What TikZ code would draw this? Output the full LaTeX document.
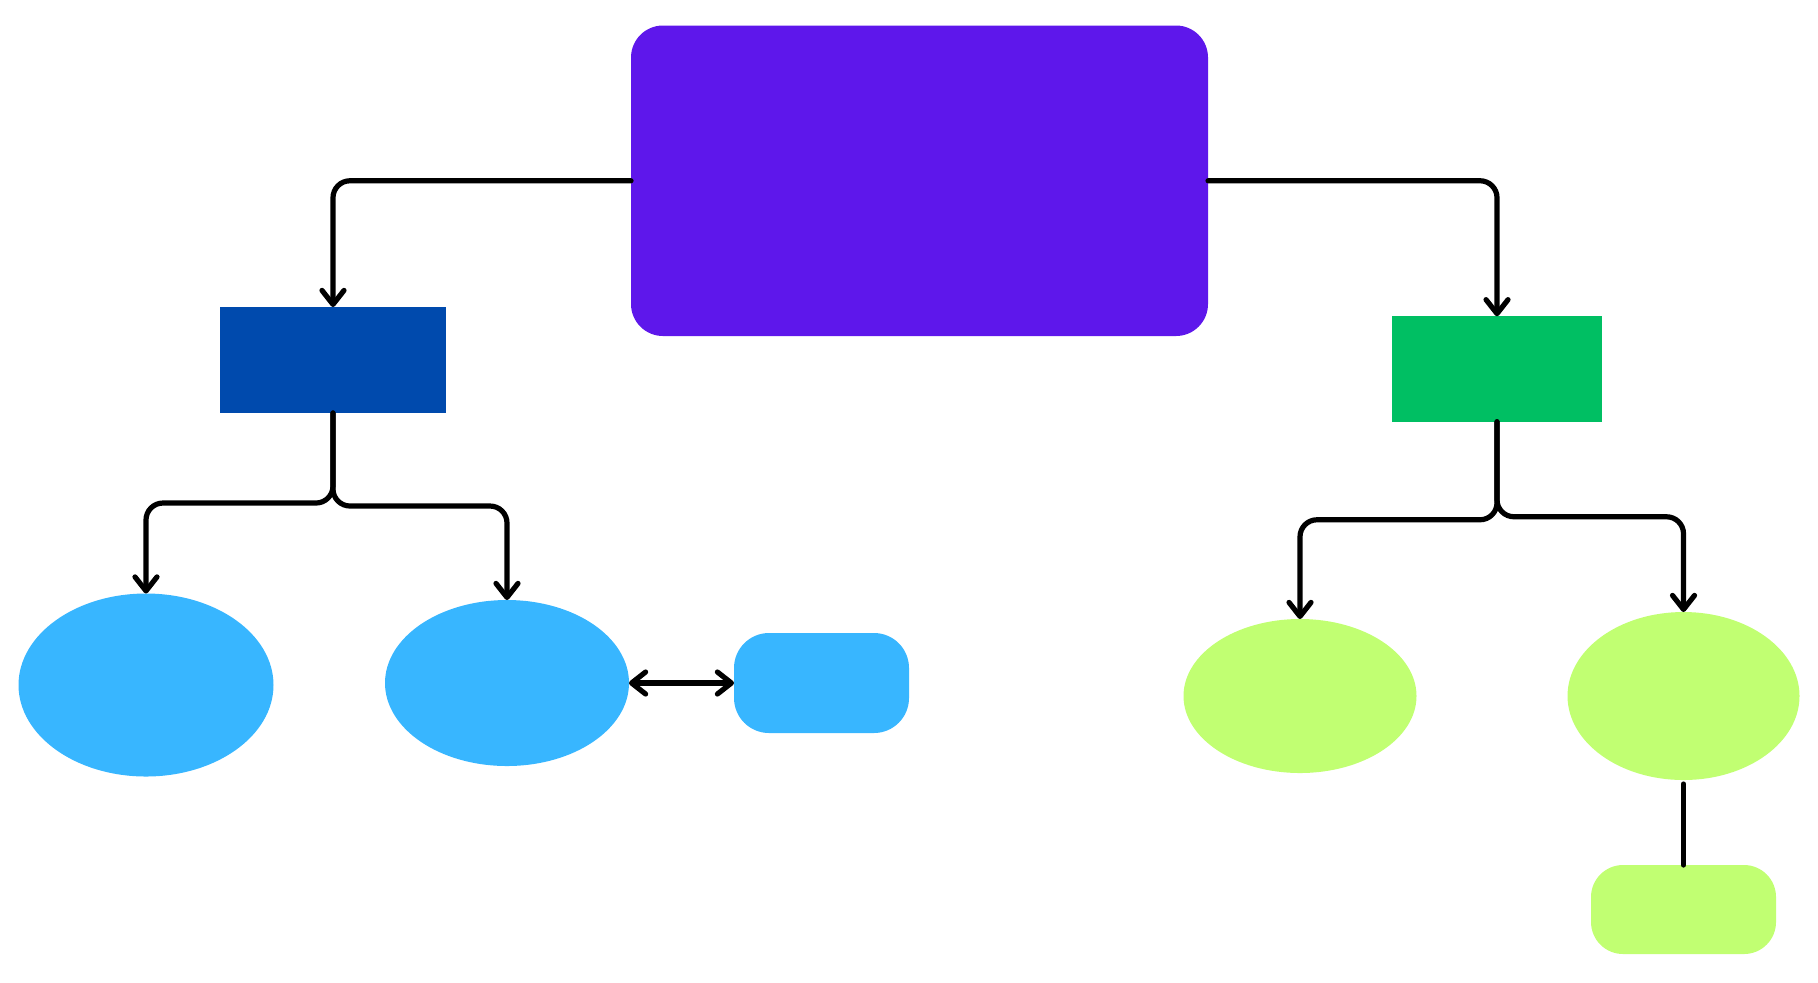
\documentclass[tikz,border=0pt]{standalone}
\usetikzlibrary{shapes.geometric,arrows.meta}
\definecolor{topviolet}{HTML}{5E17EB}
\definecolor{darkblue}{HTML}{004AAD}
\definecolor{skyblue}{HTML}{38B6FF}
\definecolor{leafgreen}{HTML}{00BF63}
\definecolor{limegreen}{HTML}{C1FF72}
\begin{document}
\begin{tikzpicture}[x=0.5pt,y=-0.5pt,
  box/.style={inner sep=0pt, outer sep=0pt},
  oval/.style={ellipse, inner sep=0pt, outer sep=0pt},
  link/.style={line width=2.6pt, line cap=round, line join=round, rounded corners=8.5pt},
  tip/.style={-{Straight Barb[round,length=7pt,width=11pt]}},
  bothtips/.style={{Straight Barb[round,length=7pt,width=11pt]}-{Straight Barb[round,length=7pt,width=11pt]}}]
\useasboundingbox (0,0) rectangle (1818,982);
\node[box, fill=topviolet, rounded corners=16pt, minimum width=288.5pt, minimum height=155.25pt] (top) at (919.5,180.75) {};
\node[box, fill=darkblue, minimum width=113pt, minimum height=53pt] (lrect) at (333,360) {};
\node[box, fill=leafgreen, minimum width=105pt, minimum height=52.75pt] (rrect) at (1497,369) {};
\node[oval, fill=skyblue, minimum width=127.5pt, minimum height=91.5pt] (lell) at (146,685) {};
\node[oval, fill=skyblue, minimum width=122pt, minimum height=83pt] (mell) at (507,683) {};
\node[box, fill=skyblue, rounded corners=17.5pt, minimum width=87.5pt, minimum height=50pt] (srect) at (821.5,683) {};
\node[oval, fill=limegreen, minimum width=116.5pt, minimum height=77pt] (glell) at (1300,696) {};
\node[oval, fill=limegreen, minimum width=116pt, minimum height=84pt] (grell) at (1683.5,696) {};
\node[box, fill=limegreen, rounded corners=16pt, minimum width=92.5pt, minimum height=44.5pt] (brect) at (1683.5,909.5) {};

\draw[link,tip] (top.west) -| (lrect.north);
\draw[link,tip] (top.east) -| (rrect.north);
\draw[link,tip] (lrect.south) -- ++(0,90) -| (lell.north);
\draw[link,tip] (lrect.south) -- ++(0,93) -| (mell.north);
\draw[line width=2.6pt, line cap=round, bothtips] (mell.east) -- (srect.west);
\draw[link,tip] (rrect.south) -- ++(0,98) -| (glell.north);
\draw[link,tip] (rrect.south) -- ++(0,95) -| (grell.north);
\draw[link, shorten <=2pt] (grell.south) -- (brect.north);
\end{tikzpicture}
\end{document}
